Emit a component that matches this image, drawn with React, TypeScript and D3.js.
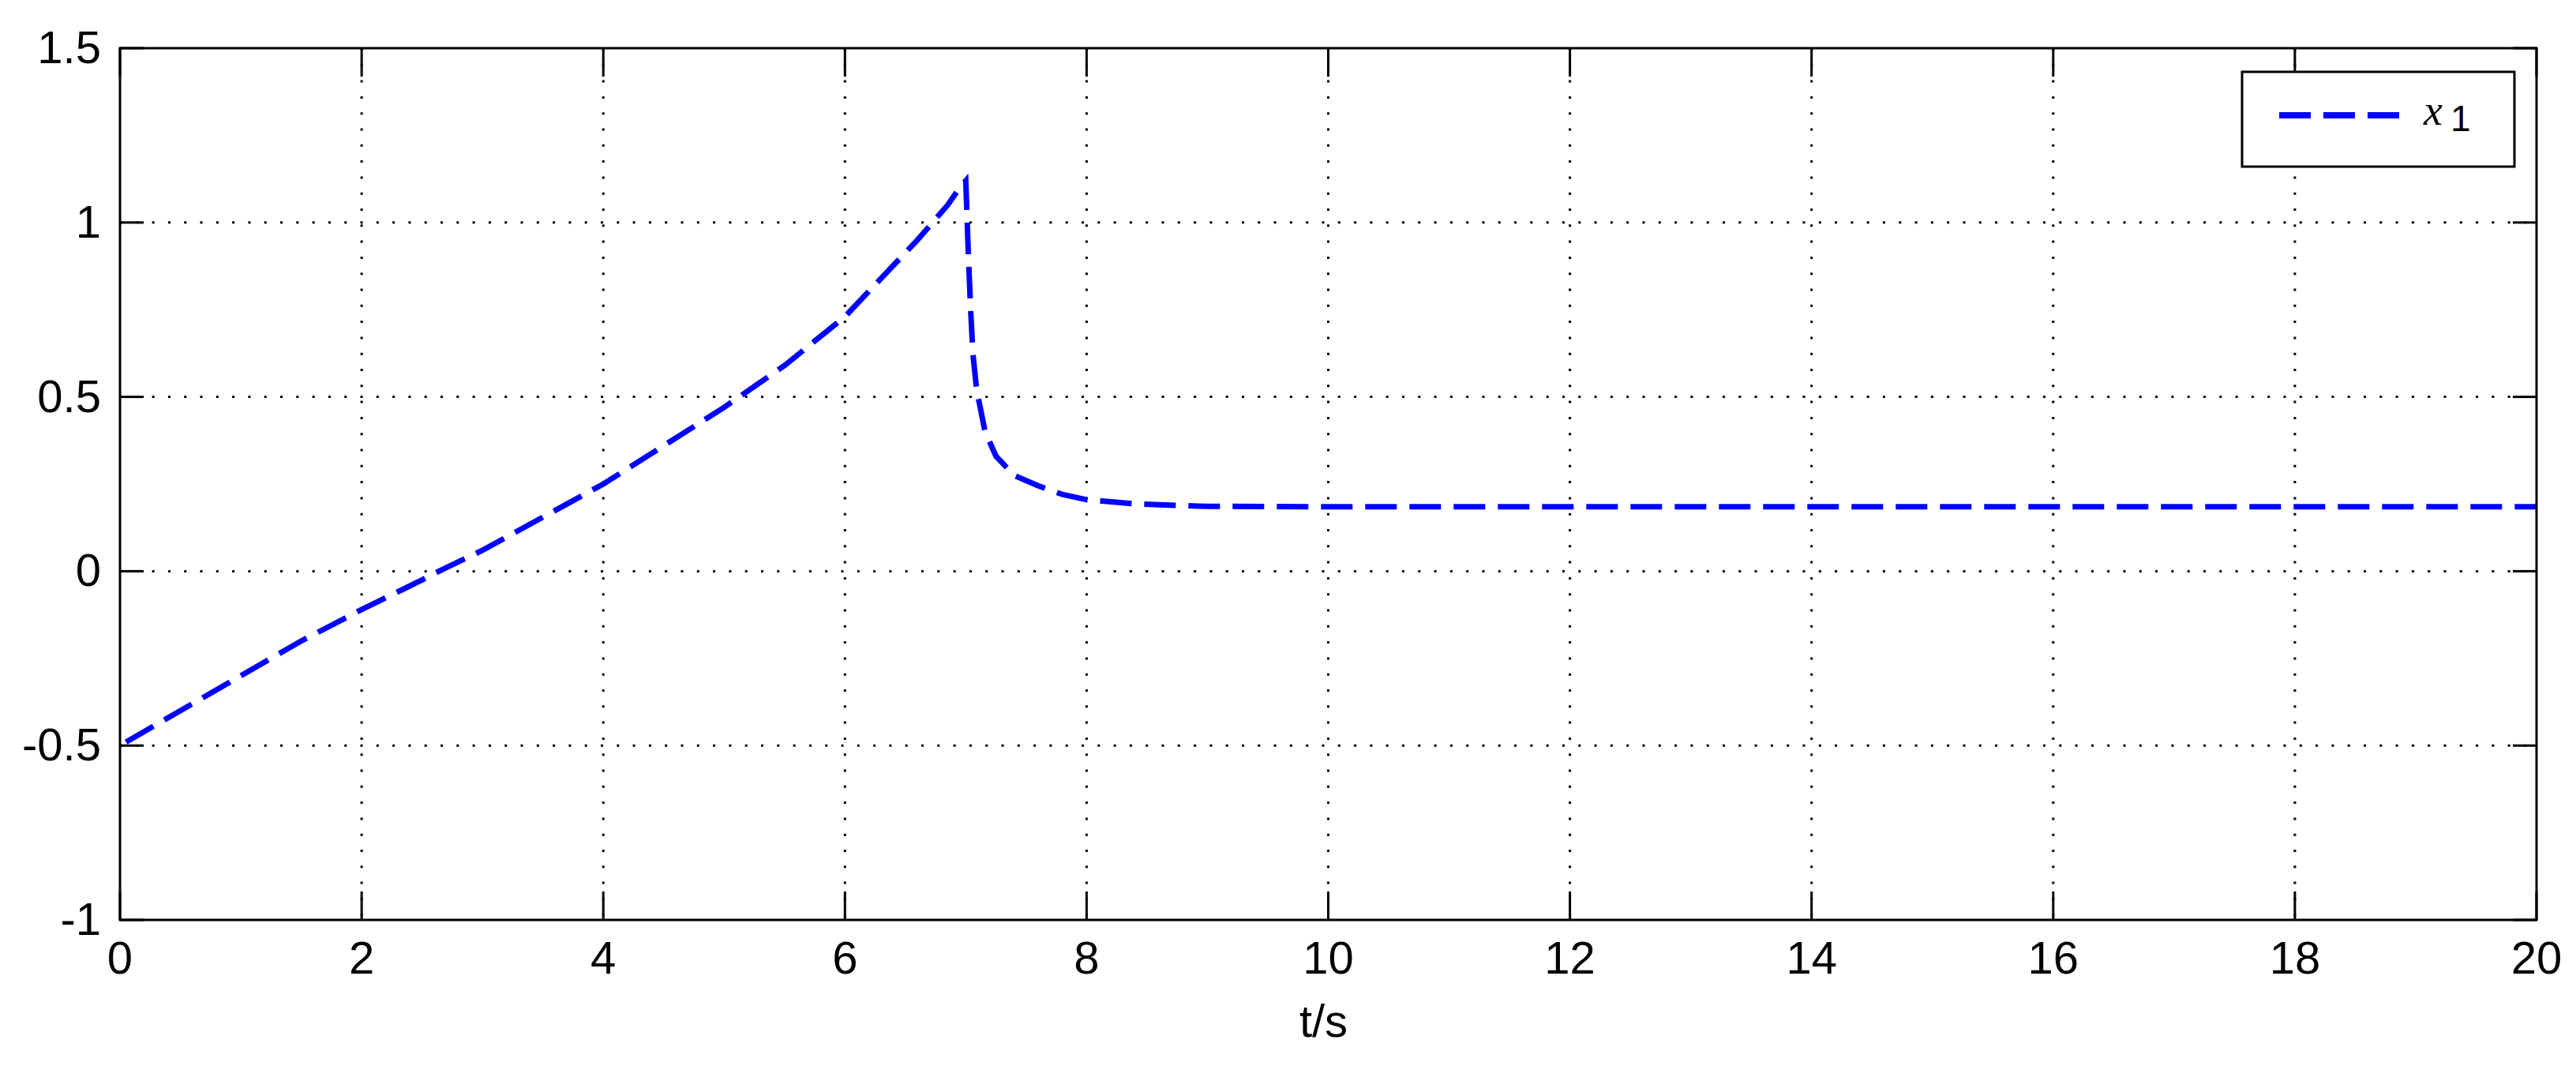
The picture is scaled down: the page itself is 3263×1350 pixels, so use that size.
import React, { useRef, useEffect } from "react";
import * as d3 from "d3";

// simulation output
const timeValues = [
  0.05, 0.5, 1, 1.5, 2, 2.5, 2.64, 3, 3.5, 4, 4.5, 5, 5.5, 6, 6.3, 6.6, 6.85, 6.95, 7.0,
  7.01, 7.02, 7.04, 7.06, 7.09, 7.16, 7.25, 7.4, 7.6, 7.8, 8.0, 8.4, 9, 10, 12, 14, 16, 18, 20,
];
const x1Values = [
  -0.49, -0.4, -0.3, -0.2, -0.11, -0.025, 0, 0.06, 0.155, 0.25, 0.36, 0.47, 0.59, 0.73, 0.84, 0.95, 1.05, 1.1, 1.12,
  1.02, 0.92, 0.75, 0.62, 0.52, 0.4, 0.33, 0.275, 0.245, 0.22, 0.205, 0.193, 0.186, 0.185, 0.185, 0.185, 0.185, 0.185, 0.185,
];

const xTicks = [0, 2, 4, 6, 8, 10, 12, 14, 16, 18, 20];
const yTicks = [-1, -0.5, 0, 0.5, 1, 1.5];
const xLabel = "t/s";
const seriesName = "x";
const seriesSub = "1";

const App = () => {
  const svgRef = useRef<SVGSVGElement>(null);

  useEffect(() => {
    const width = 3263;
    const height = 1350;
    const marginLeft = 152;
    const marginRight = 50;
    const marginTop = 61;
    const marginBottom = 185;
    const fontFamily = "'Liberation Sans', Arial, Helvetica, sans-serif";

    const x = d3.scaleLinear().domain([0, 20]).range([marginLeft, width - marginRight]);
    const y = d3.scaleLinear().domain([-1, 1.5]).range([height - marginBottom, marginTop]);

    const svg = d3.select(svgRef.current);
    svg.selectAll("*").remove();
    svg.attr("viewBox", [0, 0, width, height]).attr("width", width).attr("height", height);

    svg.append("rect").attr("width", width).attr("height", height).attr("fill", "white");

    const x0 = x(0), x1 = x(20), y0 = y(-1), y1 = y(1.5);

    // dotted grid
    const grid = svg.append("g")
      .attr("stroke", "black")
      .attr("stroke-width", 3)
      .attr("stroke-dasharray", "3 17.3")
      .attr("fill", "none");
    grid.selectAll(".gx")
      .data(xTicks.slice(1, -1))
      .join("line")
      .attr("x1", d => x(d)).attr("x2", d => x(d))
      .attr("y1", y1).attr("y2", y0);
    grid.selectAll(".gy")
      .data(yTicks.slice(1, -1))
      .join("line")
      .attr("class", "gy")
      .attr("x1", x0).attr("x2", x1)
      .attr("y1", d => y(d)).attr("y2", d => y(d));

    // inward ticks on all four sides
    const ticks = svg.append("g").attr("stroke", "black").attr("stroke-width", 3);
    xTicks.forEach(d => {
      ticks.append("line").attr("x1", x(d)).attr("x2", x(d)).attr("y1", y0).attr("y2", y0 - 36);
      ticks.append("line").attr("x1", x(d)).attr("x2", x(d)).attr("y1", y1).attr("y2", y1 + 36);
    });
    yTicks.forEach(d => {
      ticks.append("line").attr("x1", x0).attr("x2", x0 + 30).attr("y1", y(d)).attr("y2", y(d));
      ticks.append("line").attr("x1", x1).attr("x2", x1 - 30).attr("y1", y(d)).attr("y2", y(d));
    });

    // the curve
    const line = d3.line<number>()
      .x((_, i) => x(timeValues[i]))
      .y(d => y(d));

    svg.append("clipPath").attr("id", "plot-clip")
      .append("rect").attr("x", x0).attr("y", y1).attr("width", x1 - x0).attr("height", y0 - y1);

    svg.append("path")
      .datum(x1Values)
      .attr("clip-path", "url(#plot-clip)")
      .attr("d", line)
      .attr("fill", "none")
      .attr("stroke", "#0000ff")
      .attr("stroke-width", 7)
      .attr("stroke-dasharray", "40 16");

    // axes box
    svg.append("rect")
      .attr("x", x0).attr("y", y1)
      .attr("width", x1 - x0).attr("height", y0 - y1)
      .attr("fill", "none").attr("stroke", "black").attr("stroke-width", 3);

    // tick labels
    svg.append("g")
      .attr("font-family", fontFamily).attr("font-size", 58).attr("text-anchor", "middle")
      .selectAll("text")
      .data(xTicks)
      .join("text")
      .attr("x", d => x(d))
      .attr("y", y0 + 68)
      .text(d => String(d));

    svg.append("g")
      .attr("font-family", fontFamily).attr("font-size", 58).attr("text-anchor", "end")
      .selectAll("text")
      .data(yTicks)
      .join("text")
      .attr("x", x0 - 24)
      .attr("y", d => y(d) + 19)
      .text(d => String(d));

    svg.append("text")
      .attr("x", (x0 + x1) / 2 - 6)
      .attr("y", y0 + 148)
      .attr("text-anchor", "middle")
      .attr("font-family", fontFamily)
      .attr("font-size", 58)
      .text(xLabel);

    // legend
    const legend = svg.append("g");
    legend.append("rect")
      .attr("x", 2840).attr("y", 91).attr("width", 345).attr("height", 120)
      .attr("fill", "white").attr("stroke", "black").attr("stroke-width", 3);
    legend.append("line")
      .attr("x1", 2887).attr("x2", 3041).attr("y1", 146).attr("y2", 146)
      .attr("stroke", "#0000ff").attr("stroke-width", 8).attr("stroke-dasharray", "40 16");
    const label = legend.append("text")
      .attr("x", 3070).attr("y", 158)
      .attr("font-family", "'Liberation Serif', 'DejaVu Serif', serif")
      .attr("font-style", "italic")
      .attr("font-size", 54)
      .text(seriesName);
    label.append("tspan")
      .attr("dx", 10).attr("dy", 8)
      .attr("font-family", fontFamily)
      .attr("font-style", "normal")
      .attr("font-size", 46)
      .text(seriesSub);
  }, []);

  return <svg ref={svgRef} style={{ position: "absolute", left: 0, top: 0 }} />;
};

export default App;
